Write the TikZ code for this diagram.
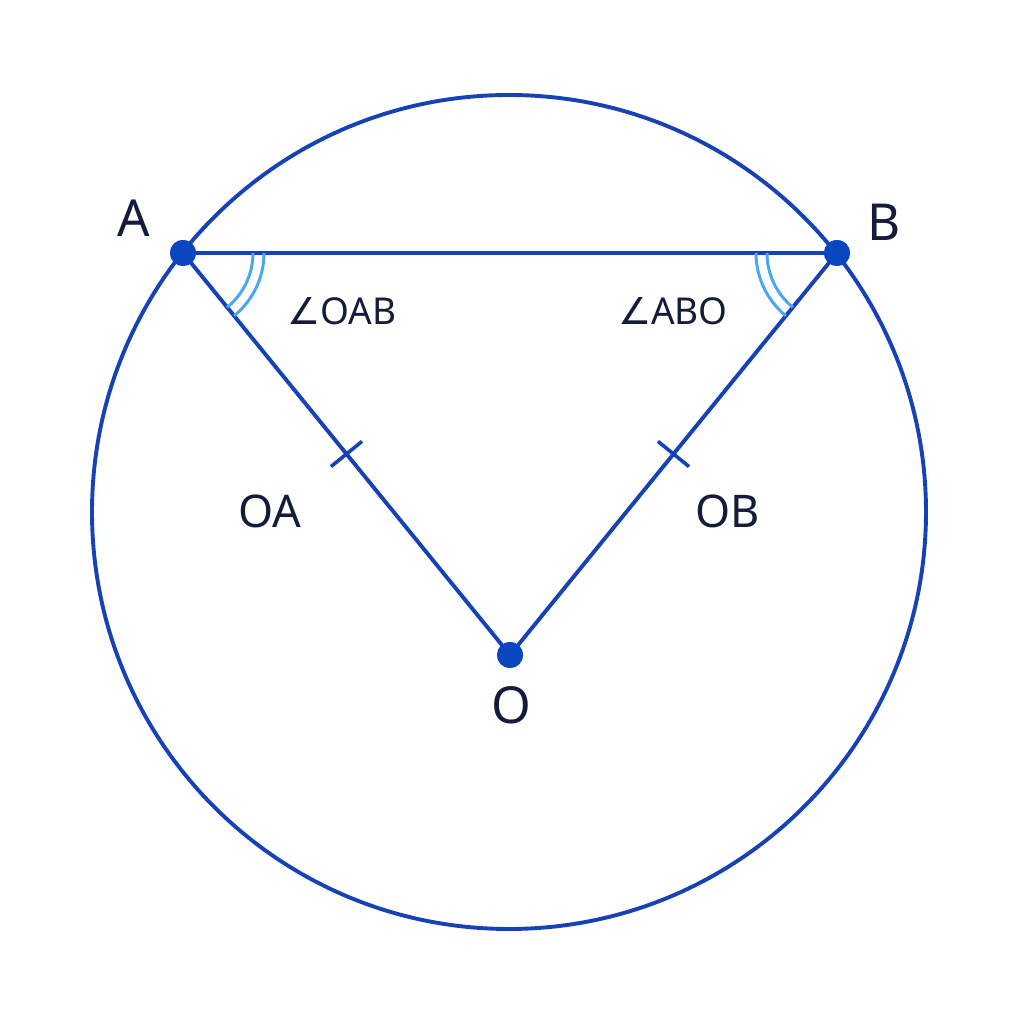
\documentclass[tikz,border=0pt]{standalone}
\usepackage{fontspec}
\setmainfont{Noto Sans}
\newfontfamily\symfont{DejaVu Sans}
\usetikzlibrary{calc}
\definecolor{lineblue}{RGB}{22,66,182}
\definecolor{dotblue}{RGB}{10,70,192}
\definecolor{arcblue}{RGB}{77,166,240}
\definecolor{txt}{RGB}{20,28,58}
\tikzset{
  geo/.style={draw=lineblue, line width=3.9pt},
  dotnode/.style={circle, fill=dotblue, inner sep=0pt, minimum size=26pt},
  anglearc/.style={draw=arcblue, line width=3pt},
  ptlabel/.style={text=txt, font=\fontsize{51}{60}\selectfont, inner sep=0pt},
  seglabel/.style={text=txt, font=\fontsize{45}{52}\selectfont, inner sep=0pt},
  anglabel/.style={text=txt, font=\fontsize{37}{44}\selectfont, inner sep=0pt},
}
\begin{document}
\begin{tikzpicture}[x=1pt,y=1pt]
\useasboundingbox[fill=white] (0,0) rectangle (1024,1024);
\coordinate (C) at (509,512);
\node[dotnode] (A) at (183,771) {};
\node[dotnode] (B) at (837,771) {};
\node[dotnode] (O) at (510,369) {};
\draw[geo] (C) circle (417pt);
\draw[geo] (A.center) -- (B.center);
\draw[geo] (A.center) -- (O.center);
\draw[geo] (B.center) -- (O.center);
\node[dotnode] at (A) {};
\node[dotnode] at (B) {};
\node[dotnode] at (O) {};
% angle arcs
\draw[anglearc] ([shift={(-50.9:70)}]A.center) arc[start angle=-50.9, end angle=0, radius=70pt];
\draw[anglearc] ([shift={(-50.9:81)}]A.center) arc[start angle=-50.9, end angle=0, radius=81pt];
\draw[anglearc] ([shift={(180:70)}]B.center) arc[start angle=180, end angle=230.9, radius=70pt];
\draw[anglearc] ([shift={(180:81)}]B.center) arc[start angle=180, end angle=230.9, radius=81pt];
% tick marks
\path (A.center) -- (O.center) coordinate[pos=0.5] (mA);
\path (B.center) -- (O.center) coordinate[pos=0.5] (mB);
\draw[geo, line width=3.6pt] ($(mA)!20pt!90:(O.center)$) -- ($(mA)!20pt!-90:(O.center)$);
\draw[geo, line width=3.6pt] ($(mB)!20pt!90:(O.center)$) -- ($(mB)!20pt!-90:(O.center)$);
% labels
\node[ptlabel] (lA) at (134,806) {A};
\node[ptlabel] (lB) at (884,802) {B};
\node[ptlabel] (lO) at (511,319) {O};
\node[anglabel] (lOAB) at (342,713) {{\symfont ∠}OAB};
\node[anglabel] (lABO) at (673,713) {{\symfont ∠}ABO};
\node[seglabel] (lOA) at (270,513) {OA};
\node[seglabel] (lOB) at (728,513) {OB};
\end{tikzpicture}
\end{document}
